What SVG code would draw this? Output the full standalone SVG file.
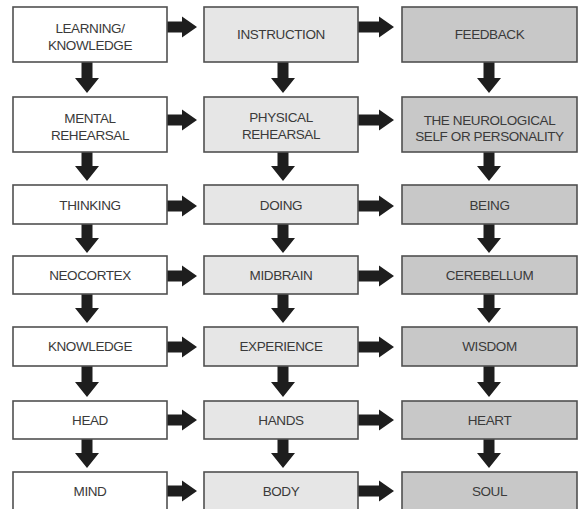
<svg xmlns="http://www.w3.org/2000/svg" width="578" height="509" viewBox="0 0 578 509">
<style>
.b{stroke:#505050;stroke-width:1.6}
.c1{fill:#ffffff}
.c2{fill:#e6e6e6}
.c3{fill:#c8c8c8}
.t{font-family:"Liberation Sans",Arial,sans-serif;font-size:13.5px;letter-spacing:-0.4px;fill:#3a3a3a;text-anchor:middle}
.a{fill:#1e1e1e}
</style>
<rect width="578" height="509" fill="#ffffff"/>
<g id="connectors" class="a">
<path d="M167 21.5H182V16.5L197 27L182 37.5V32.5H167Z"/>
<path d="M358 21.5H379V16.5L394 27L379 37.5V32.5H358Z"/>
<path d="M167 114.5H182V109.5L197 120L182 130.5V125.5H167Z"/>
<path d="M358 114.5H379V109.5L394 120L379 130.5V125.5H358Z"/>
<path d="M167 200.5H182V195.5L197 206L182 216.5V211.5H167Z"/>
<path d="M358 200.5H379V195.5L394 206L379 216.5V211.5H358Z"/>
<path d="M167 270.5H182V265.5L197 276L182 286.5V281.5H167Z"/>
<path d="M358 270.5H379V265.5L394 276L379 286.5V281.5H358Z"/>
<path d="M167 341.5H182V336.5L197 347L182 357.5V352.5H167Z"/>
<path d="M358 341.5H379V336.5L394 347L379 357.5V352.5H358Z"/>
<path d="M167 414.5H182V409.5L197 420L182 430.5V425.5H167Z"/>
<path d="M358 414.5H379V409.5L394 420L379 430.5V425.5H358Z"/>
<path d="M167 485.5H182V480.5L197 491L182 501.5V496.5H167Z"/>
<path d="M358 485.5H379V480.5L394 491L379 501.5V496.5H358Z"/>
<path d="M81.5 62H92.5V78H99L87 93L75 78H81.5Z"/>
<path d="M277.5 62H288.5V78H295L283 93L271 78H277.5Z"/>
<path d="M483.5 62H494.5V78H501L489 93L477 78H483.5Z"/>
<path d="M81.5 152H92.5V166H99L87 181L75 166H81.5Z"/>
<path d="M277.5 152H288.5V166H295L283 181L271 166H277.5Z"/>
<path d="M483.5 152H494.5V166H501L489 181L477 166H483.5Z"/>
<path d="M81.5 224H92.5V238H99L87 253L75 238H81.5Z"/>
<path d="M277.5 224H288.5V238H295L283 253L271 238H277.5Z"/>
<path d="M483.5 224H494.5V238H501L489 253L477 238H483.5Z"/>
<path d="M81.5 294H92.5V308H99L87 323L75 308H81.5Z"/>
<path d="M277.5 294H288.5V308H295L283 323L271 308H277.5Z"/>
<path d="M483.5 294H494.5V308H501L489 323L477 308H483.5Z"/>
<path d="M81.5 366H92.5V382H99L87 397L75 382H81.5Z"/>
<path d="M277.5 366H288.5V382H295L283 397L271 382H277.5Z"/>
<path d="M483.5 366H494.5V382H501L489 397L477 382H483.5Z"/>
<path d="M81.5 439H92.5V453H99L87 468L75 453H81.5Z"/>
<path d="M277.5 439H288.5V453H295L283 468L271 453H277.5Z"/>
<path d="M483.5 439H494.5V453H501L489 468L477 453H483.5Z"/>
</g>
<g id="learning"><rect class="b c1" x="13" y="7" width="154" height="55"/><text class="t" x="90" y="33">LEARNING/</text><text class="t" x="90" y="50">KNOWLEDGE</text></g>
<g id="instruction"><rect class="b c2" x="204" y="7" width="154" height="55"/><text class="t" x="281" y="39">INSTRUCTION</text></g>
<g id="feedback"><rect class="b c3" x="402" y="7" width="175" height="55"/><text class="t" x="489.5" y="39">FEEDBACK</text></g>
<g id="mental"><rect class="b c1" x="13" y="97" width="154" height="55"/><text class="t" x="90" y="123">MENTAL</text><text class="t" x="90" y="140">REHEARSAL</text></g>
<g id="physical"><rect class="b c2" x="204" y="97" width="154" height="55"/><text class="t" x="281" y="122">PHYSICAL</text><text class="t" x="281" y="139">REHEARSAL</text></g>
<g id="neurological"><rect class="b c3" x="402" y="97" width="175" height="55"/><text class="t" x="489.5" y="125">THE NEUROLOGICAL</text><text class="t" x="489.5" y="141">SELF OR PERSONALITY</text></g>
<g id="thinking"><rect class="b c1" x="13" y="185" width="154" height="39"/><text class="t" x="90" y="209.5">THINKING</text></g>
<g id="doing"><rect class="b c2" x="204" y="185" width="154" height="39"/><text class="t" x="281" y="209.5">DOING</text></g>
<g id="being"><rect class="b c3" x="402" y="185" width="175" height="39"/><text class="t" x="489.5" y="209.5">BEING</text></g>
<g id="neocortex"><rect class="b c1" x="13" y="256" width="154" height="38"/><text class="t" x="90" y="280">NEOCORTEX</text></g>
<g id="midbrain"><rect class="b c2" x="204" y="256" width="154" height="38"/><text class="t" x="281" y="280">MIDBRAIN</text></g>
<g id="cerebellum"><rect class="b c3" x="402" y="256" width="175" height="38"/><text class="t" x="489.5" y="280">CEREBELLUM</text></g>
<g id="knowledge"><rect class="b c1" x="13" y="327" width="154" height="39"/><text class="t" x="90" y="351">KNOWLEDGE</text></g>
<g id="experience"><rect class="b c2" x="204" y="327" width="154" height="39"/><text class="t" x="281" y="351">EXPERIENCE</text></g>
<g id="wisdom"><rect class="b c3" x="402" y="327" width="175" height="39"/><text class="t" x="489.5" y="351">WISDOM</text></g>
<g id="head"><rect class="b c1" x="13" y="401" width="154" height="38"/><text class="t" x="90" y="425">HEAD</text></g>
<g id="hands"><rect class="b c2" x="204" y="401" width="154" height="38"/><text class="t" x="281" y="425">HANDS</text></g>
<g id="heart"><rect class="b c3" x="402" y="401" width="175" height="38"/><text class="t" x="489.5" y="425">HEART</text></g>
<g id="mind"><rect class="b c1" x="13" y="472" width="154" height="38"/><text class="t" x="90" y="496">MIND</text></g>
<g id="body"><rect class="b c2" x="204" y="472" width="154" height="38"/><text class="t" x="281" y="496">BODY</text></g>
<g id="soul"><rect class="b c3" x="402" y="472" width="175" height="38"/><text class="t" x="489.5" y="496">SOUL</text></g>
</svg>
